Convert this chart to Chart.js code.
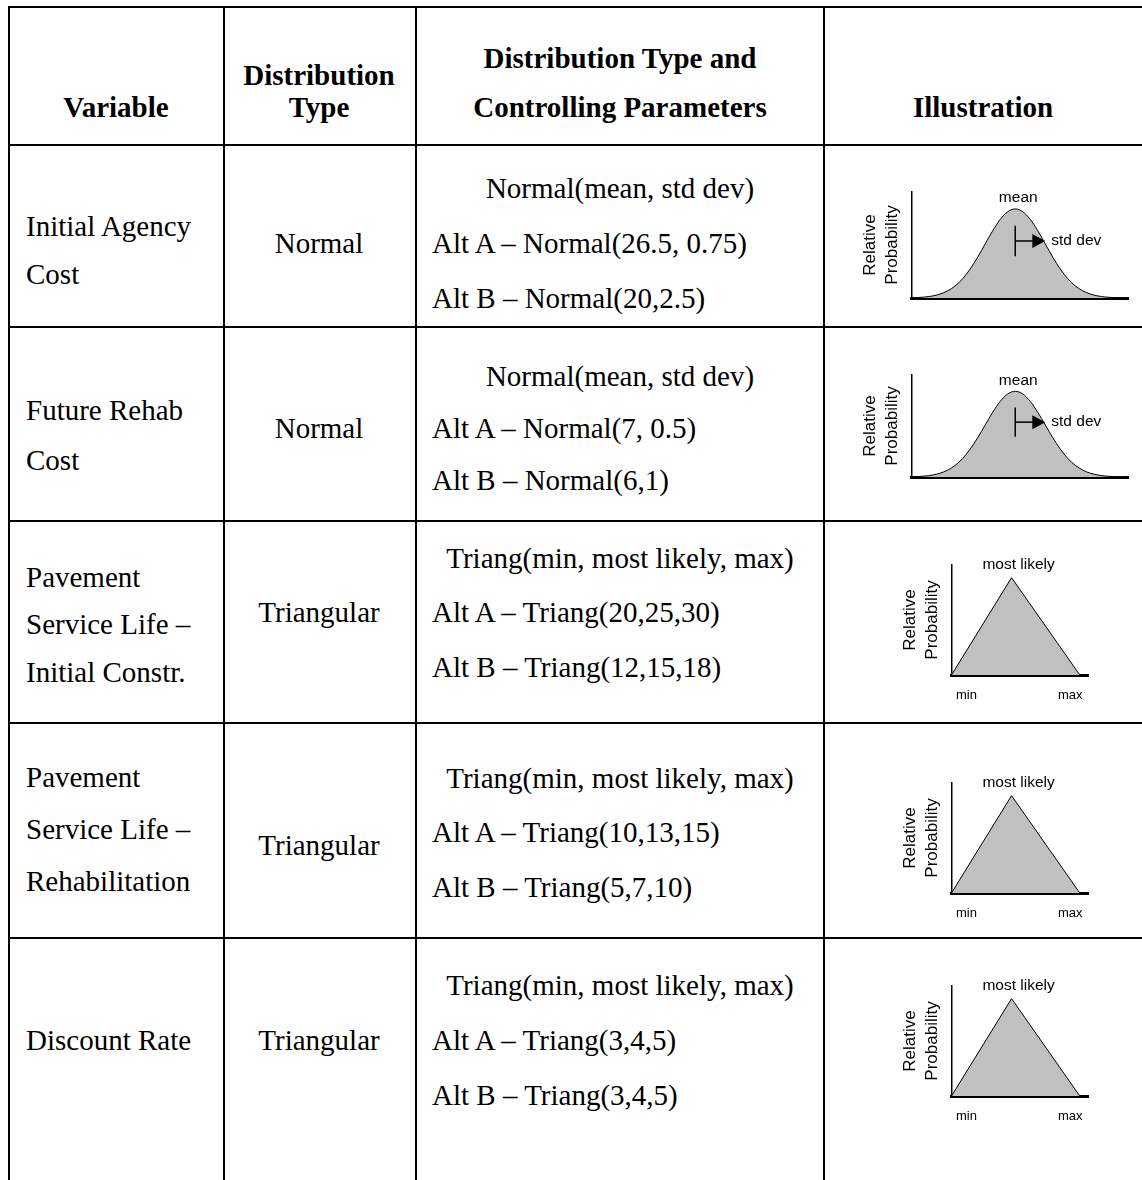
<!DOCTYPE html>
<html>
<head>
<meta charset="utf-8">
<script src="https://cdn.jsdelivr.net/npm/chart.js@4.4.0/dist/chart.umd.min.js"></script>
<style>
  html, body { margin: 0; padding: 0; background: #fff; }
  body { width: 1142px; height: 1180px; overflow: hidden; position: relative;
         font-family: "Liberation Serif", "Times New Roman", serif; color: #000; }
  .ln { position: absolute; background: #000; }
  .tx { position: absolute; font-size: 29px; line-height: 40px; height: 40px; white-space: nowrap; }
  .c { text-align: center; width: 420px; }
  .b { font-weight: bold; }
  canvas { position: absolute; }
</style>
</head>
<body>
<script>
// ---------------- data ----------------
const headerVariable = ["Variable"];
const headerDistType = ["Distribution", "Type"];
const headerParams = ["Distribution Type and", "Controlling Parameters"];
const headerIllus = ["Illustration"];

const variables = [
  ["Initial Agency", "Cost"],
  ["Future Rehab", "Cost"],
  ["Pavement", "Service Life \u2013", "Initial Constr."],
  ["Pavement", "Service Life \u2013", "Rehabilitation"],
  ["Discount Rate"]
];
const distTypes = ["Normal", "Normal", "Triangular", "Triangular", "Triangular"];
const paramForms = ["Normal(mean, std dev)", "Normal(mean, std dev)",
  "Triang(min, most likely, max)", "Triang(min, most likely, max)", "Triang(min, most likely, max)"];
const altA = ["Alt A \u2013 Normal(26.5, 0.75)", "Alt A \u2013 Normal(7, 0.5)",
  "Alt A \u2013 Triang(20,25,30)", "Alt A \u2013 Triang(10,13,15)", "Alt A \u2013 Triang(3,4,5)"];
const altB = ["Alt B \u2013 Normal(20,2.5)", "Alt B \u2013 Normal(6,1)",
  "Alt B \u2013 Triang(12,15,18)", "Alt B \u2013 Triang(5,7,10)", "Alt B \u2013 Triang(3,4,5)"];
const illusKind = ["normal", "normal", "triangle", "triangle", "triangle"];

const normalX = [-3.5,-3.25,-3,-2.75,-2.5,-2.25,-2,-1.75,-1.5,-1.25,-1,-0.75,-0.5,-0.25,0,
                 0.25,0.5,0.75,1,1.25,1.5,1.75,2,2.25,2.5,2.75,3,3.25,3.5,3.75];
const normalY = [0.002,0.005,0.011,0.023,0.044,0.080,0.135,0.216,0.325,0.458,0.607,0.755,0.882,0.969,1,
                 0.969,0.882,0.755,0.607,0.458,0.325,0.216,0.135,0.080,0.044,0.023,0.011,0.005,0.002,0.001];
const triX = [0, 0.44, 0.94];
const triY = [0, 1, 0];
const axisTitle = ["Relative", "Probability"];
const normalLabels = { peak: "mean", spread: "std dev" };
const triLabels = { mode: "most likely", min: "min", max: "max" };

// ---------------- layout ----------------
function line(l, t, w, h) {
  const d = document.createElement('div'); d.className = 'ln';
  d.style.left = l + 'px'; d.style.top = t + 'px'; d.style.width = w + 'px'; d.style.height = h + 'px';
  document.body.appendChild(d);
}
function text(str, x, cy, centered, bold) {
  const d = document.createElement('div');
  d.className = 'tx' + (centered ? ' c' : '') + (bold ? ' b' : '');
  d.textContent = str;
  d.style.left = (centered ? x - 210 : x) + 'px';
  d.style.top = (cy - 20) + 'px';
  document.body.appendChild(d);
}

const colLines = [8, 223, 415, 823];
const rowLines = [6, 144, 326, 520, 722, 937];
rowLines.forEach(y => line(8, y, 1142 - 8, 2));
colLines.forEach(x => line(x, 6, 2, 1180));

// header
text(headerVariable[0], 116, 107, true, true);
text(headerDistType[0], 319, 75, true, true);
text(headerDistType[1], 319, 107, true, true);
text(headerParams[0], 620, 58, true, true);
text(headerParams[1], 620, 107, true, true);
text(headerIllus[0], 983, 107, true, true);

const col1Y = [[226, 274], [410, 460], [577, 624, 672], [777, 829, 881], [1040]];
const col2Y = [243, 428, 612, 845, 1040];
const col3Y = [[188, 243, 298], [376, 428, 480], [558, 612, 667], [778, 832, 887], [985, 1040, 1095]];

variables.forEach((lines, i) => {
  lines.forEach((s, k) => text(s, 26, col1Y[i][k], false, false));
  text(distTypes[i], 319, col2Y[i], true, false);
  text(paramForms[i], 620, col3Y[i][0], true, false);
  text(altA[i], 432, col3Y[i][1], false, false);
  text(altB[i], 432, col3Y[i][2], false, false);
});

// ---------------- charts ----------------
const annotPlugin = {
  id: 'annot',
  afterDatasetsDraw(chart, args, o) {
    const { ctx } = chart;
    const x = chart.scales.x, y = chart.scales.y;
    ctx.save();
    ctx.fillStyle = '#000'; ctx.strokeStyle = '#000';
    ctx.font = '15.5px "Liberation Sans", Arial, sans-serif';
    ctx.textBaseline = 'middle';
    if (o.kind === 'normal') {
      const mx = x.getPixelForValue(0);
      ctx.textAlign = 'center';
      ctx.fillText(normalLabels.peak, mx + 3, y.getPixelForValue(1) - 11);
      ctx.lineWidth = 1.5;
      ctx.beginPath();
      ctx.moveTo(mx, y.getPixelForValue(0.81)); ctx.lineTo(mx, y.getPixelForValue(0.47)); ctx.stroke();
      const ay = y.getPixelForValue(0.64);
      const tip = x.getPixelForValue(1);
      ctx.beginPath(); ctx.moveTo(mx, ay); ctx.lineTo(tip - 12, ay); ctx.stroke();
      ctx.beginPath(); ctx.moveTo(tip, ay); ctx.lineTo(tip - 13, ay - 7); ctx.lineTo(tip - 13, ay + 7);
      ctx.closePath(); ctx.fill();
      ctx.textAlign = 'left';
      ctx.fillText(normalLabels.spread, tip + 6, ay);
    } else {
      ctx.textAlign = 'center';
      ctx.fillText(triLabels.mode, x.getPixelForValue(triX[1]) + 7, y.getPixelForValue(1) - 13);
      const by = y.getPixelForValue(0) + 20;
      ctx.font = '13px "Liberation Sans", Arial, sans-serif';
      ctx.fillText(triLabels.min, x.getPixelForValue(0.11), by);
      ctx.fillText(triLabels.max, x.getPixelForValue(0.87), by);
    }
    ctx.restore();
  }
};

function makeChart(kind, left, top, w, h, pad) {
  const cv = document.createElement('canvas');
  cv.width = w; cv.height = h;
  cv.style.left = left + 'px'; cv.style.top = top + 'px';
  cv.style.width = w + 'px'; cv.style.height = h + 'px';
  document.body.appendChild(cv);
  const isN = kind === 'normal';
  const xs = isN ? normalX : triX, ys = isN ? normalY : triY;
  new Chart(cv, {
    type: 'line',
    data: { datasets: [{
      data: xs.map((v, i) => ({ x: v, y: ys[i] })),
      fill: 'origin', backgroundColor: '#c0c0c0', borderColor: '#000', borderWidth: 1,
      pointRadius: 0, tension: 0, cubicInterpolationMode: isN ? 'monotone' : 'default'
    }]},
    options: {
      responsive: false, animation: false, devicePixelRatio: 1,
      layout: { padding: pad },
      plugins: { legend: { display: false }, tooltip: { enabled: false }, annot: { kind } },
      scales: {
        x: { type: 'linear', min: isN ? -3.45 : 0, max: isN ? 3.75 : 1,
             ticks: { display: false }, grid: { display: false, drawTicks: false },
             border: { display: true, color: '#000', width: 3 } },
        y: { type: 'linear', min: 0, max: isN ? 1.19 : 1.13,
             ticks: { display: false }, grid: { display: false, drawTicks: false },
             border: { display: true, color: '#000', width: 1.5 },
             title: { display: true, text: axisTitle, color: '#000',
                      font: { family: '"Liberation Sans", Arial, sans-serif', size: 17, lineHeight: 1.25 },
                      padding: { top: 0, bottom: 9 } } }
      }
    },
    plugins: [annotPlugin]
  });
}

// chart-area tops/bottoms per row
const illusTop = [192, 375, 565, 783, 986];
const illusBottom = [298, 477, 675, 893, 1096];
illusKind.forEach((k, i) => {
  if (k === 'normal') {
    const top = illusTop[i] - 12;
    makeChart(k, 860, top, 276, illusBottom[i] - top + 6, { top: 12, right: 8, bottom: 6, left: 0 });
  } else {
    const top = illusTop[i] - 20;
    makeChart(k, 900, top, 200, illusBottom[i] - top + 35, { top: 20, right: 12, bottom: 35, left: 0 });
  }
});
</script>
</body>
</html>
